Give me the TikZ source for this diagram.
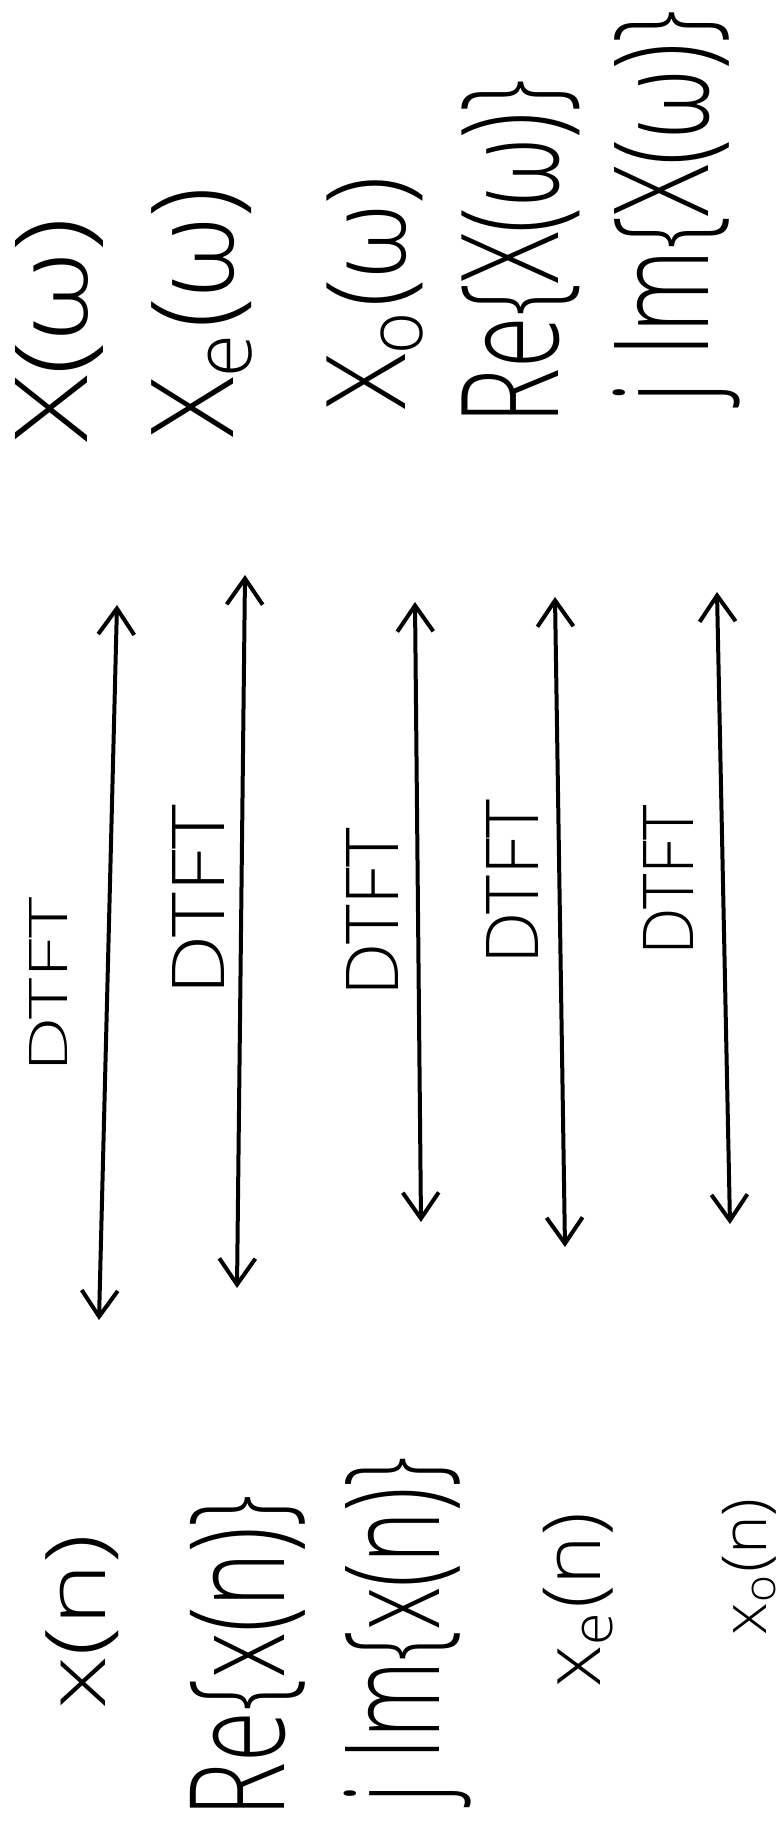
\documentclass[tikz,border=0pt]{standalone}
\usepackage{fontspec}
\IfFontExistsTF{Open Sans Light}
  {\setmainfont{Open Sans Light}}
  {\IfFontExistsTF{Lato Light}
    {\setmainfont{Lato Light}}
    {\IfFontExistsTF{Fira Sans Light}
      {\setmainfont{Fira Sans Light}}
      {\IfFontExistsTF{DejaVu Sans ExtraLight}
        {\setmainfont{DejaVu Sans ExtraLight}}
        {\setmainfont{Fira Sans}}}}}
\usetikzlibrary{arrows.meta}
\newcommand\mylabbox[3]{\resizebox*{#1pt}{#2pt}{#3}}
\begin{document}
\begin{tikzpicture}[x=1pt,y=-1pt,
  lab/.style={rotate=90,inner sep=0pt,outer sep=0pt,anchor=center,text=black},
  tip/.tip={Straight Barb[length=26pt,width=36pt,line width=4pt]},
  dtarrow/.style={line width=4pt,black,line cap=round,tip-tip},
]
\useasboundingbox (0,0) rectangle (783,1832);
% right column (frequency domain)
\node[lab] (F1) at (59,330)  {\mylabbox{225}{88}{X(ω)}};
\node[lab] (F2) at (202,312) {\mylabbox{250}{100}{X\textsubscript{e}(ω)}};
\node[lab] (F3) at (375,293) {\mylabbox{233}{96}{X\textsubscript{o}(ω)}};
\node[lab] (F4) at (521,252) {\mylabbox{345}{118}{Re\{X(ω)\}}};
\node[lab] (F5) at (677,207) {\mylabbox{393}{127}{j Im\{X(ω)\}}};
% left column (time domain)
\node[lab] (T1) at (82,1622)  {\mylabbox{175}{73}{x(n)}};
\node[lab] (T2) at (248,1656) {\mylabbox{322}{115}{Re\{x(n)\}}};
\node[lab] (T3) at (408,1630) {\mylabbox{346}{127}{j Im\{x(n)\}}};
\node[lab] (T4) at (578,1600) {\mylabbox{174}{70}{x\textsubscript{e}(n)}};
\node[lab] (T5) at (749,1567) {\mylabbox{137}{54}{x\textsubscript{o}(n)}};
% DTFT labels
\node[lab] (D1) at (48,985)  {\mylabbox{175}{38}{DTFT}};
\node[lab] (D2) at (198,900) {\mylabbox{190}{52}{DTFT}};
\node[lab] (D3) at (372,912) {\mylabbox{168}{52}{DTFT}};
\node[lab] (D4) at (512,882) {\mylabbox{165}{52}{DTFT}};
\node[lab] (D5) at (668,880) {\mylabbox{150}{50}{DTFT}};
% arrow ends
\coordinate (A1t) at (117,605);  \coordinate (A1b) at (99,1320);
\coordinate (A2t) at (245,575);  \coordinate (A2b) at (237,1288);
\coordinate (A3t) at (415,602);  \coordinate (A3b) at (421,1222);
\coordinate (A4t) at (555,597);  \coordinate (A4b) at (565,1247);
\coordinate (A5t) at (717,592);  \coordinate (A5b) at (730,1224);
\draw[dtarrow] (A1b) -- (A1t);
\draw[dtarrow] (A2b) -- (A2t);
\draw[dtarrow] (A3b) -- (A3t);
\draw[dtarrow] (A4b) -- (A4t);
\draw[dtarrow] (A5b) -- (A5t);
\end{tikzpicture}
\end{document}
